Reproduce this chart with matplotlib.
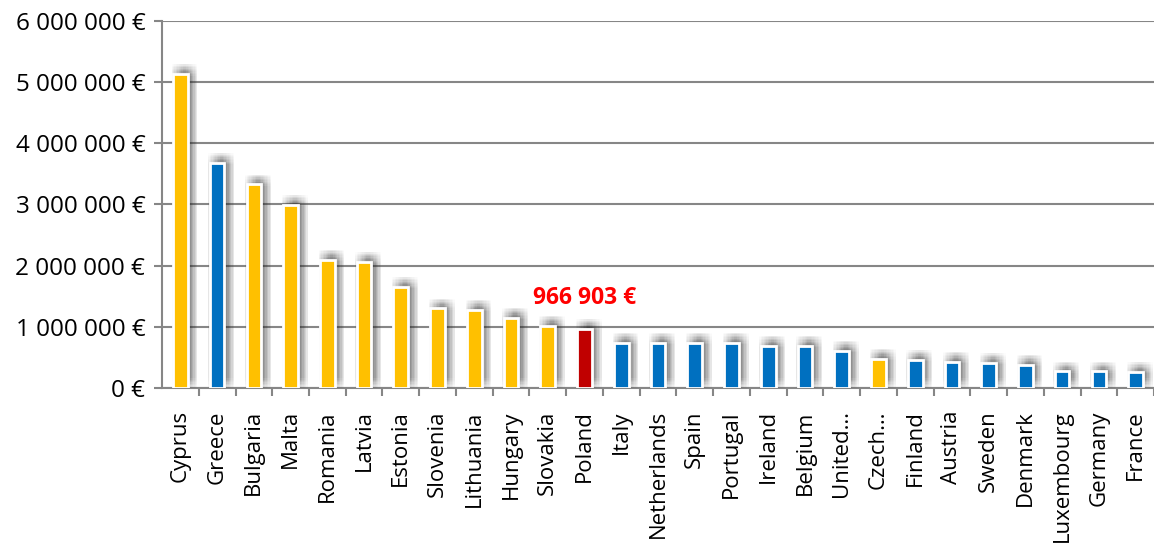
import matplotlib.pyplot as plt
import matplotlib.patheffects as pe
from matplotlib.ticker import FuncFormatter

countries = ["Cyprus", "Greece", "Bulgaria", "Malta", "Romania", "Latvia", "Estonia",
             "Slovenia", "Lithuania", "Hungary", "Slovakia", "Poland", "Italy",
             "Netherlands", "Spain", "Portugal", "Ireland", "Belgium", "United…",
             "Czech…", "Finland", "Austria", "Sweden", "Denmark", "Luxembourg",
             "Germany", "France"]
values = [5130000, 3680000, 3330000, 2990000, 2100000, 2060000, 1650000,
          1300000, 1280000, 1150000, 1020000, 966903, 740000,
          740000, 740000, 740000, 690000, 690000, 610000,
          480000, 460000, 430000, 410000, 380000, 270000,
          270000, 260000]
groups = ["y", "b", "y", "y", "y", "y", "y", "y", "y", "y", "y", "r", "b",
          "b", "b", "b", "b", "b", "b", "y", "b", "b", "b", "b", "b", "b", "b"]
palette = {"y": "#FFC000", "b": "#0070C0", "r": "#C00000"}

plt.rcParams['font.family'] = ['Open Sans', 'DejaVu Sans']

fig = plt.figure(figsize=(11.54, 5.47), dpi=100)
ax = fig.add_axes([0.1404, 0.2907, 0.8596, 0.6709])

x = list(range(len(countries)))
bars = ax.bar(x, values, width=0.4, color=[palette[g] for g in groups],
              edgecolor='white', linewidth=2, zorder=3)

# soft blurred shadow, up-right like the Excel effect
shadow = []
for dx in range(-4, 5):
    for dy in range(-4, 5):
        shadow.append(pe.SimplePatchShadow(offset=(3 + dx, 3 + dy),
                                           shadow_rgbFace='#404040', alpha=0.012))
for b in bars:
    b.set_path_effects(shadow + [pe.Normal()])

ax.set_ylim(0, 6000000)
ax.set_xlim(-0.5, 26.22)
ax.set_yticks(range(0, 6000001, 1000000))
ax.yaxis.set_major_formatter(FuncFormatter(lambda v, p: f"{int(v):,} €".replace(",", " ")))
ax.grid(axis='y', color='#868686', linewidth=1.5, zorder=0)

ax.set_xticks(x)
ax.set_xticklabels(countries, rotation=90, fontsize=16)
ax.set_xticks([i + 0.5 for i in x], minor=True)
ax.tick_params(axis='x', which='major', length=0, pad=16)
ax.tick_params(axis='x', which='minor', length=6, color='#868686', width=1.5)
ax.tick_params(axis='y', length=6, color='#868686', width=1.5, labelsize=17.5, pad=6)

for s in ['top', 'right']:
    ax.spines[s].set_visible(False)
for s in ['left', 'bottom']:
    ax.spines[s].set_color('#868686')
    ax.spines[s].set_linewidth(1.5)

pi = countries.index("Poland")
ax.annotate(f"{values[pi]:,} €".replace(",", " "), (pi, values[pi]),
            xytext=(0, 22), textcoords='offset points', ha='center', va='center',
            color='#FF0000', fontsize=16.5, fontweight='bold')

fig.savefig("out.png", dpi=100)
